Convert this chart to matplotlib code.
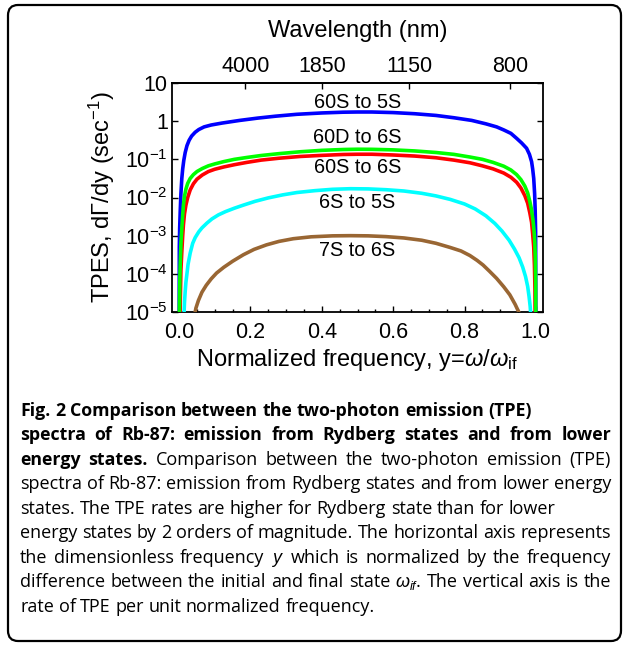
import matplotlib.pyplot as plt
from matplotlib.patches import FancyBboxPatch
from matplotlib.ticker import NullLocator
import numpy as np

plt.rcParams['font.family'] = ['Liberation Sans', 'DejaVu Sans']
plt.rcParams['mathtext.fontset'] = 'custom'
plt.rcParams['mathtext.rm'] = 'Liberation Sans'
plt.rcParams['mathtext.it'] = 'Liberation Sans:italic'
plt.rcParams['mathtext.bf'] = 'Liberation Sans:bold'

# ---- data (dGamma/dy in 1/sec) ----
# 60S -> 5S
x_60s5s = [0.0, 0.0005, 0.0015, 0.003, 0.005, 0.0075, 0.01, 0.013, 0.017, 0.022,
           0.028, 0.035, 0.045, 0.055, 0.07, 0.09, 0.12, 0.17, 0.22, 0.27,
           0.33, 0.4, 0.46, 0.5, 0.54, 0.6, 0.66, 0.72, 0.77, 0.82,
           0.86, 0.89, 0.91, 0.93, 0.946, 0.96, 0.974, 0.982, 0.988, 0.991,
           0.994, 0.9965, 0.998, 0.9993, 1.0]
v_60s5s = [1e-6, 5.0e-4, 1.58e-3, 4.27e-3, 1.26e-2, 3.16e-2, 5.62e-2, 9.33e-2, 0.151, 0.229,
           0.316, 0.407, 0.513, 0.603, 0.708, 0.794, 0.891, 1.047, 1.202, 1.349,
           1.514, 1.641, 1.718, 1.738, 1.738, 1.679, 1.567, 1.413, 1.230, 1.047,
           0.851, 0.708, 0.589, 0.479, 0.355, 0.269, 0.195, 0.135, 0.0871, 0.0562,
           0.0316, 0.0126, 5.0e-3, 1.26e-3, 1e-6]

# 60D -> 6S
x_60d6s = [0.0, 0.0008, 0.002, 0.003, 0.005, 0.0075, 0.01, 0.012, 0.015, 0.019,
           0.024, 0.031, 0.04, 0.05, 0.065, 0.082, 0.1, 0.125, 0.155, 0.19,
           0.23, 0.28, 0.34, 0.4, 0.46, 0.5, 0.54, 0.6, 0.66, 0.72,
           0.77, 0.815, 0.85, 0.88, 0.91, 0.93, 0.946, 0.958, 0.969, 0.977,
           0.983, 0.988, 0.992, 0.995, 0.997, 0.9985, 0.9995, 1.0]
v_60d6s = [1e-6, 1.26e-5, 7.94e-5, 1.70e-4, 6.31e-4, 1.55e-3, 3.55e-3, 6.31e-3, 1.07e-2, 1.66e-2,
           2.34e-2, 3.16e-2, 3.98e-2, 4.79e-2, 5.75e-2, 6.76e-2, 7.59e-2, 8.71e-2, 0.100, 0.112,
           0.126, 0.141, 0.158, 0.172, 0.181, 0.184, 0.183, 0.177, 0.166, 0.151,
           0.135, 0.115, 0.100, 0.0832, 0.0661, 0.0525, 0.0398, 0.0295, 0.0200, 0.0132,
           7.94e-3, 4.68e-3, 2.51e-3, 1.32e-3, 7.08e-4, 2.51e-4, 5.01e-5, 1e-6]

# 60S -> 6S
x_60s6s = [0.002, 0.003, 0.005, 0.0075, 0.01, 0.012, 0.015, 0.019, 0.024, 0.031,
           0.04, 0.05, 0.065, 0.082, 0.1, 0.125, 0.155, 0.19, 0.23, 0.28,
           0.34, 0.4, 0.46, 0.5, 0.54, 0.6, 0.66, 0.72, 0.77, 0.815,
           0.85, 0.88, 0.91, 0.93, 0.946, 0.958, 0.969, 0.977, 0.983, 0.988,
           0.991, 0.994, 0.996, 0.9975, 0.9985]
v_60s6s = [1e-6, 1.58e-5, 1.26e-4, 3.80e-4, 1.0e-3, 1.91e-3, 3.72e-3, 6.31e-3, 1.0e-2, 1.58e-2,
           2.29e-2, 3.02e-2, 3.89e-2, 4.79e-2, 5.50e-2, 6.31e-2, 7.24e-2, 8.32e-2, 9.55e-2, 0.107,
           0.119, 0.127, 0.134, 0.136, 0.136, 0.130, 0.122, 0.110, 0.0955, 0.0813,
           0.0676, 0.0562, 0.0437, 0.0339, 0.0251, 0.0178, 0.0112, 7.08e-3, 3.98e-3, 2.24e-3,
           1.12e-3, 5.01e-4, 1.70e-4, 3.98e-5, 1e-6]

# 6S -> 5S
x_6s5s = [0.0135, 0.015, 0.017, 0.019, 0.0215, 0.025, 0.031, 0.038, 0.045, 0.055,
          0.064, 0.078, 0.092, 0.11, 0.13, 0.155, 0.18, 0.213, 0.25, 0.29,
          0.33, 0.38, 0.43, 0.48, 0.53, 0.58, 0.63, 0.68, 0.72, 0.76,
          0.8, 0.83, 0.86, 0.885, 0.905, 0.925, 0.94, 0.953, 0.963, 0.971,
          0.977, 0.981, 0.984, 0.986]
v_6s5s = [7.94e-6, 1.78e-5, 3.47e-5, 6.03e-5, 9.33e-5, 1.78e-4, 3.5e-4, 6.3e-4, 8.9e-4, 1.26e-3,
          1.6e-3, 2.14e-3, 2.75e-3, 3.5e-3, 4.27e-3, 5.25e-3, 6.31e-3, 7.94e-3, 9.77e-3, 1.17e-2,
          1.35e-2, 1.51e-2, 1.64e-2, 1.70e-2, 1.68e-2, 1.60e-2, 1.48e-2, 1.29e-2, 1.10e-2, 8.91e-3,
          6.76e-3, 5.01e-3, 3.31e-3, 2.09e-3, 1.32e-3, 7.59e-4, 4.47e-4, 2.63e-4, 1.51e-4, 8.51e-5,
          4.68e-5, 2.51e-5, 1.41e-5, 7.94e-6]

# 7S -> 6S
x_7s6s = [0.042, 0.047, 0.054, 0.064, 0.076, 0.09, 0.105, 0.125, 0.15, 0.18,
          0.21, 0.245, 0.28, 0.32, 0.37, 0.43, 0.48, 0.53, 0.58, 0.63,
          0.68, 0.72, 0.76, 0.79, 0.815, 0.835, 0.852, 0.87, 0.89, 0.91,
          0.927, 0.942, 0.952, 0.96]
v_7s6s = [7.08e-6, 1.26e-5, 2.0e-5, 3.31e-5, 5.01e-5, 7.41e-5, 1.05e-4, 1.48e-4, 2.14e-4, 3.16e-4,
          4.37e-4, 5.75e-4, 7.08e-4, 8.32e-4, 9.33e-4, 9.89e-4, 1.0e-3, 9.89e-4, 9.44e-4, 8.71e-4,
          7.59e-4, 6.31e-4, 4.90e-4, 3.98e-4, 3.02e-4, 2.26e-4, 1.70e-4, 1.17e-4, 7.59e-5, 4.57e-5,
          2.82e-5, 1.58e-5, 1.0e-5, 6.31e-6]

labels = ["60S to 5S", "60D to 6S", "60S to 6S", "6S to 5S", "7S to 6S"]
label_y = [3.0, 0.37, 0.06, 7.2e-3, 4.0e-4]

x_ticks = [0.0, 0.2, 0.4, 0.6, 0.8, 1.0]
x_tick_labels = ["0.0", "0.2", "0.4", "0.6", "0.8", "1.0"]
y_ticks = [1e-5, 1e-4, 1e-3, 1e-2, 1e-1, 1, 10]
y_tick_labels = [r"$10^{-5}$", r"$10^{-4}$", r"$10^{-3}$", r"$10^{-2}$", r"$10^{-1}$", "1", "10"]

# top axis: wavelength in nm, y = lam_if / lambda
lam_if = 741.7
wl_ticks = [4000, 1850, 1150, 800]

# caption lines: (bold part, regular part, justify?)
caption = [
    ("Fig. 2 Comparison between the two-photon emission (TPE)", "", False),
    ("spectra of Rb-87: emission from Rydberg states and from lower", "", True),
    ("energy states.", "Comparison between the two-photon emission (TPE)", True),
    ("", "spectra of Rb-87: emission from Rydberg states and from lower energy", True),
    ("", "states. The TPE rates are higher for Rydberg state than for lower", False),
    ("", "energy states by 2 orders of magnitude. The horizontal axis represents", True),
    ("", r"the dimensionless frequency $y$ which is normalized by the frequency", True),
    ("", r"difference between the initial and final state $\omega_{if}$. The vertical axis is the", True),
    ("", "rate of TPE per unit normalized frequency.", False),
]

W, H = 625, 646
fig = plt.figure(figsize=(W / 100, H / 100), dpi=100)
r = fig.canvas.get_renderer()

# rounded frame round everything
box = FancyBboxPatch((8 / W, 1 - 641 / H), 613 / W, 636 / H,
                     boxstyle="round,pad=0,rounding_size=0.016",
                     transform=fig.transFigure, fill=False, ec='black', lw=1.6)
fig.add_artist(box)

ax = fig.add_axes([172 / W, 1 - 312 / H, 371 / W, 229 / H])

lw = 2.6
ax.plot(x_60s5s, v_60s5s, color='#0000ff', lw=lw, zorder=2)
ax.plot(x_60s6s, v_60s6s, color='#ff0000', lw=lw, zorder=3)
ax.plot(x_60d6s, v_60d6s, color='#00ff00', lw=lw, zorder=4)
ax.plot(x_6s5s, v_6s5s, color='#00ffff', lw=lw, zorder=5)
ax.plot(x_7s6s, v_7s6s, color='#996633', lw=lw, zorder=6)

for t, yy in zip(labels, label_y):
    ax.text(0.5, yy, t, ha='center', va='center', fontsize=14.3)

ax.set_yscale('log')
ax.set_xlim(-0.02, 1.02)
ax.set_ylim(1e-5, 10)
ax.set_xticks(x_ticks, x_tick_labels)
ax.set_xticks(np.arange(0, 1.001, 0.05), minor=True)
ax.set_yticks(y_ticks, y_tick_labels)
ax.yaxis.set_minor_locator(NullLocator())
ax.tick_params(which='both', direction='in', top=False, right=True, width=1.0)
ax.tick_params(which='major', length=4)
ax.tick_params(which='minor', length=2.2)
ax.tick_params(axis='x', labelsize=15.5, pad=7)
ax.tick_params(axis='y', labelsize=15.5, pad=3)
for s in ax.spines.values():
    s.set_linewidth(1.3)

ax.set_xlabel(r"Normalized frequency, y=$\omega$/$\omega_{\mathrm{if}}$", fontsize=17)
ax.xaxis.set_label_coords(0.5, (312 - 360) / 229)
ax.xaxis.label.set_va('center')
ax.set_ylabel(r"TPES, d$\Gamma$/dy (sec$^{-1}$)", fontsize=17)
ax.yaxis.set_label_coords((102 - 172) / 371, 0.5)
ax.yaxis.label.set_va('center')

sec = ax.secondary_xaxis('top')
sec.set_xticks([lam_if / w for w in wl_ticks], [str(w) for w in wl_ticks])
sec.tick_params(direction='in', length=4, width=1.0, labelsize=15.5, pad=4.5)
sec.spines['top'].set_linewidth(1.3)
ax.text(0.5, 1 + (83 - 31) / 229, "Wavelength (nm)", transform=ax.transAxes,
        ha='center', va='center', fontsize=17)

# ---- caption, set word by word so that full lines are justified ----
cap_font = ['Open Sans', 'DejaVu Sans']
bold_size, reg_size = 12.8, 13
left, right = 20, 611
base = [416, 440, 465, 489, 514, 538, 563, 587, 612]


def word_width(w, **kw):
    tt = fig.text(0, 0, w, fontfamily=cap_font, **kw)
    wd = tt.get_window_extent(renderer=r).width
    tt.remove()
    return wd


for (bold, reg, just), yb in zip(caption, base):
    words = [(w, dict(fontweight='bold', fontsize=bold_size)) for w in bold.split()]
    words += [(w, dict(fontsize=reg_size)) for w in reg.split()]
    widths = [word_width(w, **kw) for w, kw in words]
    space = word_width("a b", fontsize=reg_size) - word_width("ab", fontsize=reg_size)
    if just and len(words) > 1:
        space = (right - left - sum(widths)) / (len(words) - 1)
    x = left
    for (w, kw), wd in zip(words, widths):
        fig.text(x / W, 1 - yb / H, w, fontfamily=cap_font, va='baseline', **kw)
        x += wd + space

fig.savefig('out.png', dpi=100)
